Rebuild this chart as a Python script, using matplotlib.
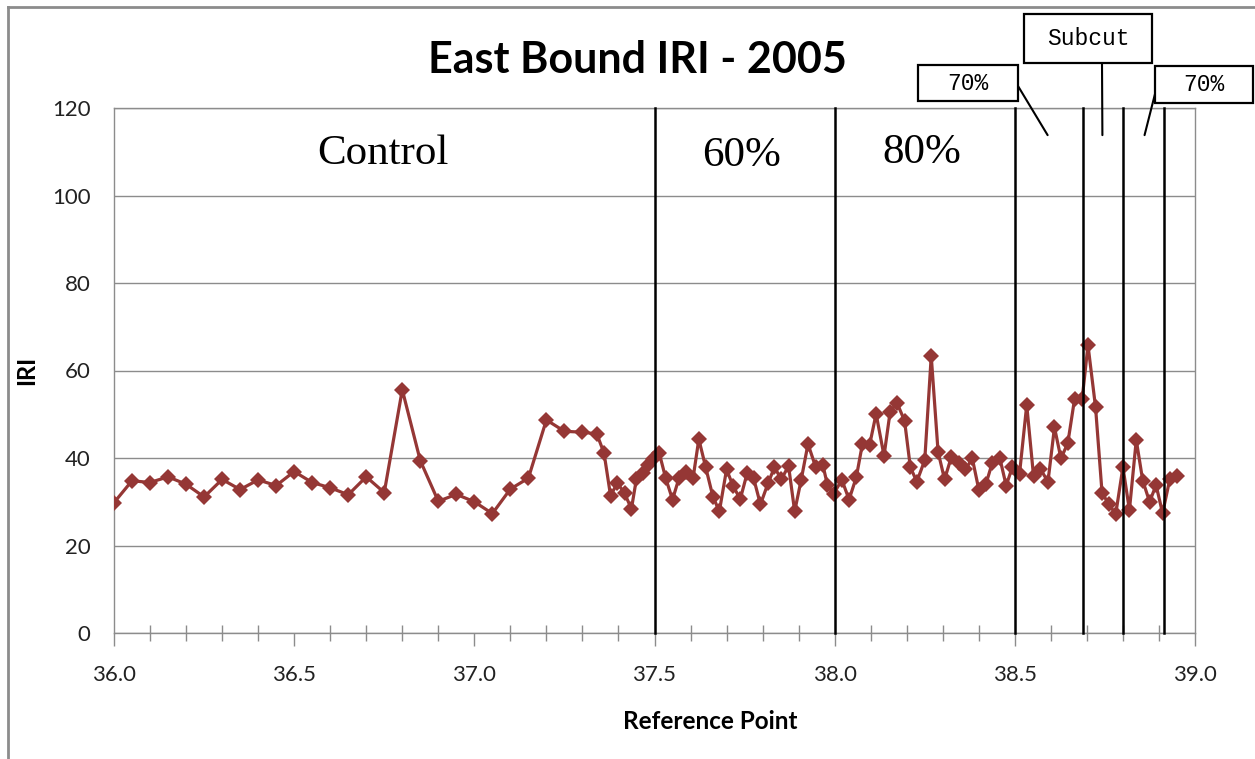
import matplotlib as mpl
mpl.use('Agg')
import matplotlib.pyplot as plt
from matplotlib.patches import Rectangle
from matplotlib.lines import Line2D

W, H = 1255, 759

# reference point (mile) and IRI readings
ref_point = [
    36.00, 36.05, 36.10, 36.15, 36.20, 36.25, 36.30, 36.35, 36.40, 36.45,
    36.50, 36.55, 36.60, 36.65, 36.70, 36.75, 36.80, 36.85, 36.90, 36.95,
    37.00, 37.05, 37.10, 37.15, 37.20, 37.25, 37.30,
    37.340, 37.360, 37.378, 37.397, 37.417, 37.436, 37.450, 37.468, 37.482, 37.497,
    37.513, 37.531, 37.550, 37.568, 37.588, 37.607, 37.623, 37.642, 37.662, 37.680,
    37.700, 37.718, 37.738, 37.757, 37.775, 37.794, 37.815, 37.833, 37.852, 37.872,
    37.889, 37.907, 37.926, 37.947, 37.967, 37.980, 37.997, 38.020, 38.040, 38.060,
    38.077, 38.097, 38.115, 38.137, 38.154, 38.173, 38.194, 38.210, 38.228, 38.250,
    38.268, 38.287, 38.305, 38.324, 38.345, 38.363, 38.382, 38.400, 38.420, 38.437,
    38.458, 38.476, 38.493, 38.513, 38.533, 38.552, 38.570, 38.592, 38.610, 38.628,
    38.647, 38.666, 38.687, 38.703, 38.724, 38.742, 38.760, 38.780, 38.800, 38.818,
    38.837, 38.855, 38.874, 38.892, 38.910, 38.930, 38.950,
]
iri = [
    29.8, 34.8, 34.4, 35.7, 34.0, 31.1, 35.1, 32.8, 35.0, 33.7,
    36.9, 34.4, 33.2, 31.6, 35.7, 32.1, 55.6, 39.4, 30.1, 31.7,
    30.0, 27.3, 32.9, 35.4, 48.7, 46.1, 45.9,
    45.5, 41.1, 31.4, 34.3, 31.9, 28.4, 35.3, 36.6, 38.4, 39.8,
    41.2, 35.4, 30.5, 35.4, 36.9, 35.4, 44.3, 37.9, 31.2, 27.8,
    37.4, 33.6, 30.6, 36.5, 35.4, 29.4, 34.2, 37.9, 35.1, 38.2,
    27.8, 35.0, 43.2, 38.0, 38.5, 33.8, 31.8, 35.0, 30.5, 35.6,
    43.2, 43.0, 50.1, 40.5, 50.6, 52.6, 48.5, 37.9, 34.6, 39.5,
    63.3, 41.4, 35.1, 40.3, 38.8, 37.4, 39.9, 32.8, 34.1, 38.8,
    40.1, 33.7, 37.9, 36.4, 52.1, 35.8, 37.6, 34.6, 47.0, 39.9,
    43.4, 53.6, 53.6, 65.8, 51.6, 32.1, 29.5, 27.2, 37.9, 28.1,
    44.1, 34.8, 30.0, 33.8, 27.4, 35.1, 35.9,
]

# section boundaries (black lines) and section names
boundaries = [37.5, 38.0, 38.5, 38.69, 38.80, 38.915]
section_names = ["Control", "60%", "80%"]
section_pos = [(36.746, 109.6), (37.742, 109.0), (38.241, 109.8)]

# call-out boxes above the plot for the short sections
callouts = ["70%", "Subcut", "70%"]
callout_target = [38.591, 38.743, 38.860]

MARK = '#953735'

fig = plt.figure(figsize=(W / 100, H / 100), dpi=100)
ax = fig.add_axes([114 / W, 1 - 633 / H, (1195 - 114) / W, (633 - 108) / H])

ax.plot(ref_point, iri, color=MARK, linewidth=2.3, marker='D', markersize=8.5,
        markeredgewidth=0, zorder=3)

for b in boundaries:
    ax.plot([b, b], [0, 120], color='black', linewidth=1.8, zorder=4, clip_on=False)

for name, (x, y) in zip(section_names, section_pos):
    ax.text(x, y, name, ha='center', va='center', fontsize=31,
            family='Liberation Serif')

ax.set_xlim(36.0, 39.0)
ax.set_ylim(0, 120)
ax.set_xticks([36.0, 36.5, 37.0, 37.5, 38.0, 38.5, 39.0])
ax.set_xticklabels(["36.0", "36.5", "37.0", "37.5", "38.0", "38.5", "39.0"])
ax.set_xticks([x / 10 for x in range(361, 390) if x % 5 != 0], minor=True)
ax.set_yticks(range(0, 121, 20))
ax.grid(axis='y', color='#8c8c8c', linewidth=1.0)
ax.set_axisbelow(True)

for s in ax.spines.values():
    s.set_color('#8c8c8c')
    s.set_linewidth(1.0)

ax.tick_params(axis='x', which='major', direction='out', length=9, width=1,
               color='#8c8c8c', labelsize=16, pad=14)
ax.tick_params(axis='x', which='minor', direction='inout', length=12, width=1,
               color='#8c8c8c')
ax.tick_params(axis='y', length=0, labelsize=16, pad=17)
for lab in ax.get_xticklabels() + ax.get_yticklabels():
    lab.set_family('Lato')
    lab.set_color('#222222')

ax.set_xlabel("Reference Point", fontsize=17.5, fontweight='bold', family='Lato')
ax.xaxis.set_label_coords(0.552, -0.146)
ax.set_ylabel("IRI", fontsize=17, fontweight='bold', family='Lato')
ax.yaxis.set_label_coords(-0.0703, 0.5)

fig.text(637 / W, 1 - 60 / H, "East Bound IRI - 2005", ha='center', va='center',
         fontsize=31, fontweight='bold', family='Lato')

# call-out boxes, in figure pixels (top-left origin)
def px(x, y):
    return x / W, 1 - y / H

boxes = [(918, 65, 100, 36), (1024, 14, 128, 49), (1155, 66, 98, 37)]
anchors = [(1018, 86), (1102, 63), (1156, 90)]
for text, (bx, by, bw, bh), anc, tx in zip(callouts, boxes, anchors, callout_target):
    x0, y0 = px(bx, by + bh)
    fig.patches.append(Rectangle((x0, y0), bw / W, bh / H, transform=fig.transFigure,
                                 facecolor='white', edgecolor='black', linewidth=1.6))
    cx, cy = px(bx + bw / 2, by + bh / 2)
    fig.text(cx, cy, text, ha='center', va='center', fontsize=16.5,
             family='Liberation Mono')
    ax.annotate("", xy=(tx, 113.8), xycoords='data',
                xytext=px(*anc), textcoords='figure fraction',
                arrowprops=dict(arrowstyle='-', color='black', linewidth=1.5,
                                shrinkA=0, shrinkB=0),
                annotation_clip=False)

# outer chart border
fig.add_artist(Line2D([8 / W, 8 / W], [0, 1 - 7 / H], transform=fig.transFigure,
                      color='#8c8c8c', linewidth=2))
fig.add_artist(Line2D([8 / W, 1], [1 - 7 / H, 1 - 7 / H], transform=fig.transFigure,
                      color='#8c8c8c', linewidth=2))

plt.savefig("out.png", dpi=100)
